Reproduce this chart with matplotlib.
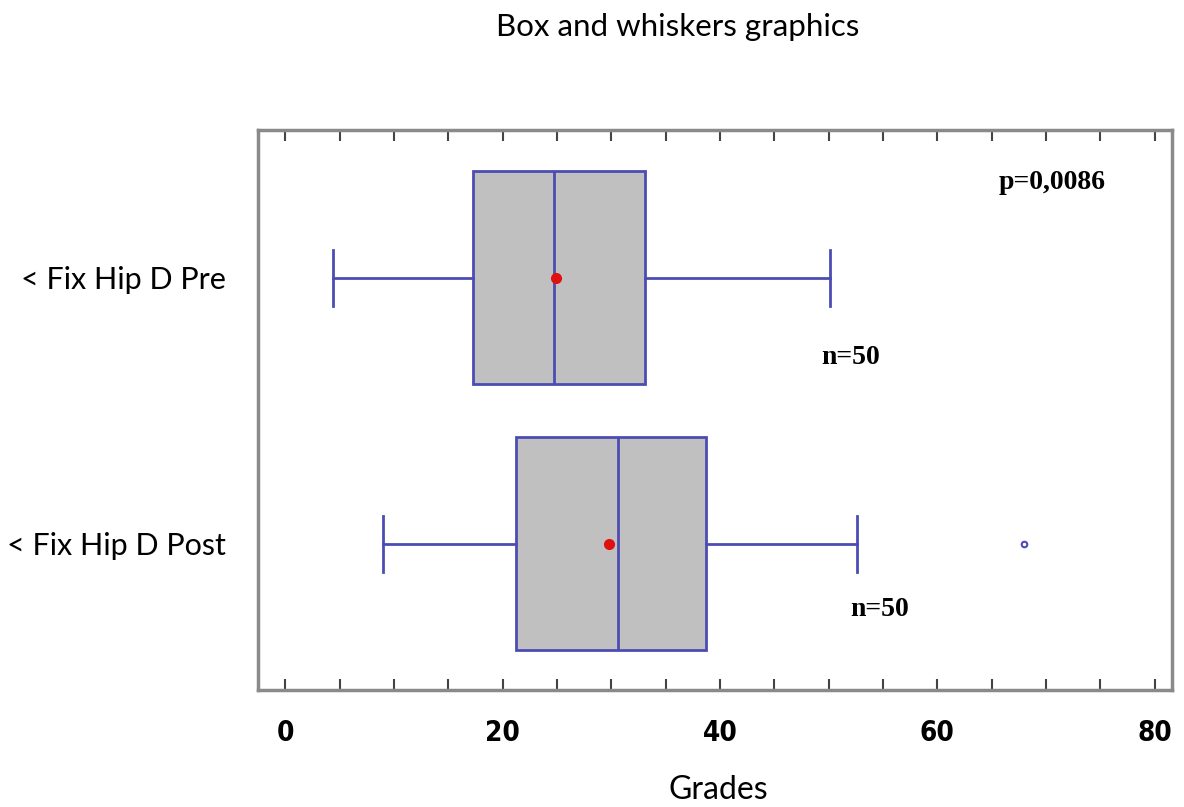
"""
Box and whiskers plot, Fix Hip D pre vs post.
"""
import matplotlib
matplotlib.use("Agg")
import matplotlib.pyplot as plt
from matplotlib.ticker import MultipleLocator

# --- Data ---
labels = ["< Fix Hip D Pre", "< Fix Hip D Post"]
whislo = [4.4, 9.0]
q1 = [17.3, 21.2]
med = [24.7, 30.6]
q3 = [33.1, 38.7]
whishi = [50.1, 52.6]
means = [24.9, 29.8]
fliers = [[], [68.0]]
p_text = "p=0,0086"
n_text = ["n=50", "n=50"]

line_col = "#4c4cb4"
spine_col = "#8a8a8a"

stats = []
for i in range(len(labels)):
    stats.append(dict(label=labels[i], whislo=whislo[i], q1=q1[i], med=med[i],
                      q3=q3[i], whishi=whishi[i], mean=means[i], fliers=fliers[i]))

fig = plt.figure(figsize=(11.84, 8.07), dpi=100)
ax = fig.add_axes([258 / 1184, 1 - 690 / 807, (1172 - 258) / 1184, (690 - 130) / 807])

positions = [2, 1]
ax.bxp(stats, positions=positions, vert=False, widths=0.8, patch_artist=True,
       showmeans=True, showfliers=True, capwidths=0.21,
       boxprops=dict(facecolor="#c0c0c0", edgecolor=line_col, linewidth=2),
       medianprops=dict(color=line_col, linewidth=2),
       whiskerprops=dict(color=line_col, linewidth=2),
       capprops=dict(color=line_col, linewidth=2),
       meanprops=dict(marker="o", markerfacecolor="#e01010", markeredgecolor="#e01010",
                      markersize=7),
       flierprops=dict(marker="o", markerfacecolor="none", markeredgecolor=line_col,
                       markersize=4, markeredgewidth=1.5))

ax.set_xlim(-2.5, 81.6)
ax.set_ylim(0.45, 2.556)

# --- Axes styling ---
for s in ax.spines.values():
    s.set_color(spine_col)
    s.set_linewidth(2.5)

ax.xaxis.set_major_locator(MultipleLocator(20))
ax.xaxis.set_minor_locator(MultipleLocator(5))
ax.tick_params(axis="x", which="both", direction="in", top=True, length=8, width=1.5,
               color="#444444", pad=21)
ax.tick_params(axis="x", which="major", labelsize=20)
for t in ax.get_xticklabels():
    t.set_family(["DejaVu Sans"])
    t.set_fontstretch("condensed")
    t.set_fontweight("bold")

ax.set_yticks(positions)
ax.set_yticklabels(labels, family=["Lato", "DejaVu Sans"], fontsize=22)
ax.tick_params(axis="y", length=0, pad=23)

# --- Annotations ---
tfont = dict(family=["Liberation Serif", "DejaVu Serif"], fontweight="bold", fontsize=20)
ax.text(70.6, 2.357, p_text, ha="center", va="center", **tfont)
ax.text(52.0, 1.70, n_text[0], ha="center", va="center", **tfont)
ax.text(54.7, 0.752, n_text[1], ha="center", va="center", **tfont)

fig.text(678 / 1184, 1 - 27 / 807, "Box and whiskers graphics", ha="center", va="center",
         family=["Lato", "DejaVu Sans"], fontsize=22.5)
fig.text(718 / 1184, 1 - 790 / 807, "Grades", ha="center", va="center",
         family=["Lato", "DejaVu Sans"], fontsize=23)

fig.savefig("out.png", dpi=100)
